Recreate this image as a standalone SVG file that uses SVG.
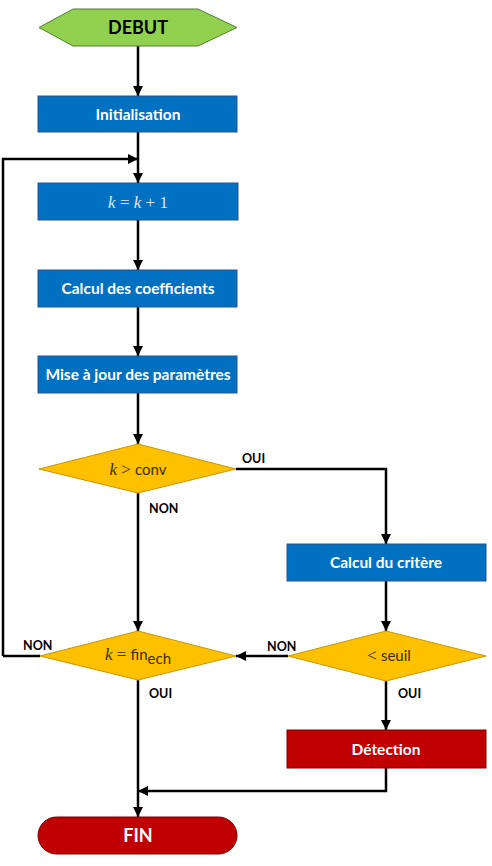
<svg xmlns="http://www.w3.org/2000/svg" width="492" height="866" viewBox="0 0 492 866">
<style>
.box{fill:#0070c0;stroke:#2f528f;stroke-width:1}
.dia{fill:#ffc000;stroke:#c99700;stroke-width:1}
.red{fill:#c00000;stroke:#7f0000;stroke-width:1}
.t{font-family:Lato,"Open Sans","Liberation Sans",sans-serif;font-weight:bold;font-size:15.5px;fill:#fff;text-anchor:middle}
.m{font-family:"Liberation Serif","DejaVu Serif",serif;font-size:17px}
.s{font-family:Lato,"Liberation Sans",sans-serif;font-size:15px}
.lbl{font-family:Lato,"Liberation Sans",sans-serif;font-weight:bold;font-size:12.5px;fill:#000}
.c{fill:none;stroke:#000;stroke-width:2.5;stroke-linejoin:miter}
</style>
<defs>
<marker id="ah" viewBox="0 0 10 10" refX="10" refY="5" markerWidth="4" markerHeight="4" markerUnits="strokeWidth" orient="auto">
<path d="M0,0 L10,5 L0,10 z" fill="#000"/>
</marker>
</defs>
<rect width="492" height="866" fill="#fff"/>
<g id="connectors">
<path class="c" d="M138,46 V96" marker-end="url(#ah)"/>
<path class="c" d="M138,132 V183" marker-end="url(#ah)"/>
<path class="c" d="M3,656 V159 H138" marker-end="url(#ah)"/>
<path class="c" d="M40,656 H3"/>
<path class="c" d="M138,220 V270" marker-end="url(#ah)"/>
<path class="c" d="M138,307 V356" marker-end="url(#ah)"/>
<path class="c" d="M138,393 V444" marker-end="url(#ah)"/>
<path class="c" d="M236,469 H386 V544" marker-end="url(#ah)"/>
<path class="c" d="M138,493 V631" marker-end="url(#ah)"/>
<path class="c" d="M386,581 V631" marker-end="url(#ah)"/>
<path class="c" d="M288,656 H236" marker-end="url(#ah)"/>
<path class="c" d="M386,681 V730" marker-end="url(#ah)"/>
<path class="c" d="M138,680 V817" marker-end="url(#ah)"/>
<path class="c" d="M386,768 V791 H138" marker-end="url(#ah)"/>
</g>
<g id="debut">
<polygon points="39,27.5 73,9 198,9 237,27.5 198,46 73,46" fill="#92d050" stroke="#507e32" stroke-width="1"/>
<text x="138" y="34" class="t" style="font-size:18px;fill:#000">DEBUT</text>
</g>
<g id="init">
<rect class="box" x="38" y="96" width="199" height="36"/>
<text x="138" y="119.5" class="t">Initialisation</text>
</g>
<g id="incr">
<rect class="box" x="38" y="183" width="200" height="37"/>
<text x="138" y="207.5" text-anchor="middle" fill="#dde8f5"><tspan class="m" font-style="italic">k</tspan><tspan class="m"> = </tspan><tspan class="m" font-style="italic">k</tspan><tspan class="m"> + 1</tspan></text>
</g>
<g id="coef">
<rect class="box" x="38" y="270" width="199" height="37"/>
<text x="138" y="294" class="t">Calcul des coefficients</text>
</g>
<g id="maj">
<rect class="box" x="38" y="356" width="199" height="37"/>
<text x="138" y="380" class="t">Mise à jour des paramètres</text>
</g>
<g id="conv">
<polygon class="dia" points="39,469 138,444 236,469 138,493"/>
<text x="138" y="474.5" text-anchor="middle" fill="#3a2e10"><tspan class="m" font-style="italic">k</tspan><tspan class="m"> &gt; </tspan><tspan class="s">conv</tspan></text>
<text x="242" y="463" class="lbl">OUI</text>
<text x="149" y="513" class="lbl">NON</text>
</g>
<g id="critere">
<rect class="box" x="287" y="544" width="199" height="37"/>
<text x="386" y="568" class="t">Calcul du critère</text>
</g>
<g id="finech">
<polygon class="dia" points="40,656 138,631 236,656 138,680"/>
<text x="138" y="660" text-anchor="middle" fill="#3a2e10"><tspan class="m" font-style="italic">k</tspan><tspan class="m"> = </tspan><tspan class="s">fin</tspan><tspan class="s" font-size="11" dy="4">ech</tspan></text>
<text x="23" y="650" class="lbl">NON</text>
<text x="149" y="698" class="lbl">OUI</text>
</g>
<g id="seuil">
<polygon class="dia" points="288,656 386,631 486,656 386,681"/>
<text x="389" y="661" text-anchor="middle" fill="#3a2e10"><tspan class="m">&lt; </tspan><tspan class="s">seuil</tspan></text>
<text x="267" y="651" class="lbl">NON</text>
<text x="398" y="698" class="lbl">OUI</text>
</g>
<g id="detection">
<rect class="red" x="287" y="730" width="199" height="38"/>
<text x="386" y="754.5" class="t">Détection</text>
</g>
<g id="fin">
<rect class="red" x="38" y="817" width="199" height="37" rx="18.5" ry="18.5"/>
<text x="138" y="842" class="t" style="font-size:18px">FIN</text>
</g>
</svg>
